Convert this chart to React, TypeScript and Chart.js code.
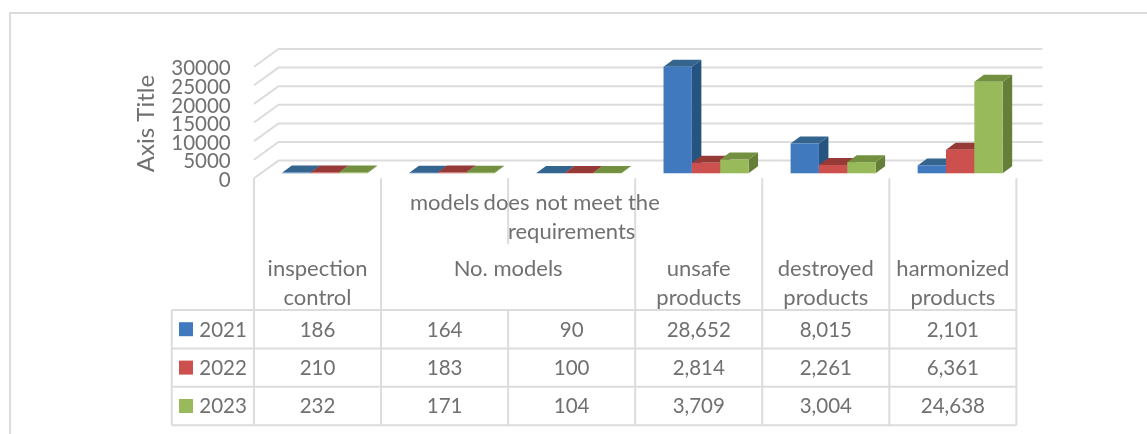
import React, { useEffect, useRef } from "react";
import { Chart, registerables } from "chart.js";

Chart.register(...registerables);

const seriesNames = ["2021", "2022", "2023"];
const values2021 = [186, 164, 90, 28652, 8015, 2101];
const values2022 = [210, 183, 100, 2814, 2261, 6361];
const values2023 = [232, 171, 104, 3709, 3004, 24638];
const categories = ["inspection control", "models", "does not meet the requirements", "unsafe products", "destroyed products", "harmonized products"];
const innerLabels = [["inspection", "control"], ["No. models"], [], ["unsafe", "products"], ["destroyed", "products"], ["harmonized", "products"]];
const outerLabels = [[], ["models"], ["does not meet the", "requirements"], [], [], []];
const axisTitle = "Axis Title";

const frontColors = ["#4179be", "#cb504e", "#98ba5b"];
const topColors = ["#33658f", "#963a38", "#72903f"];
const sideColors = ["#255480", "#8a302e", "#667f38"];
const allValues = [values2021, values2022, values2023];

const NUM_FONT = "20.5px Lato";
const LABEL_FONT = "22px Lato";
const TEXT = "#707070";
const LINE = "#dcdcdc";

const scene = {
  id: "scene",
  beforeDatasetsDraw(chart: any) {
    const { ctx, scales: { x, y } } = chart;
    const band = x.width / categories.length;
    const frontLeft = x.left - 7.3;
    const frontRight = frontLeft + band * categories.length;
    ctx.save();
    // outer frame
    ctx.strokeStyle = LINE;
    ctx.lineWidth = 2;
    ctx.beginPath();
    ctx.moveTo(10, 434);
    ctx.lineTo(10, 13);
    ctx.lineTo(1147, 13);
    ctx.stroke();
    // wall gridlines
    y.ticks.forEach((t: any) => {
      const p = y.getPixelForValue(t.value);
      ctx.beginPath();
      ctx.moveTo(frontLeft, p + 5);
      ctx.lineTo(frontLeft + 24.5, p - 12.7);
      ctx.lineTo(frontRight + 26, p - 12.7);
      ctx.stroke();
    });
    // data table grid
    const rowTop = 310;
    const rowH = 38.4;
    const tableLeft = 171.7;
    const base = y.getPixelForValue(0) + 5;
    ctx.beginPath();
    for (let r = 0; r <= seriesNames.length; r++) {
      ctx.moveTo(tableLeft, rowTop + r * rowH);
      ctx.lineTo(frontRight, rowTop + r * rowH);
    }
    ctx.moveTo(tableLeft, rowTop);
    ctx.lineTo(tableLeft, rowTop + 3 * rowH);
    for (let c = 0; c <= categories.length; c++) {
      const cx = frontLeft + c * band;
      if (c === 2) {
        ctx.moveTo(cx, base);
        ctx.lineTo(cx, 244);
        ctx.moveTo(cx, rowTop);
      } else {
        ctx.moveTo(cx, base);
      }
      ctx.lineTo(cx, rowTop + 3 * rowH);
    }
    ctx.stroke();
    // text
    ctx.fillStyle = TEXT;
    ctx.textBaseline = "middle";
    ctx.textAlign = "center";
    categories.forEach((_, c) => {
      const cx = frontLeft + (c + 0.5) * band;
      ctx.font = LABEL_FONT;
      outerLabels[c].forEach((s, i) => ctx.fillText(s, cx, 202.5 + i * 29.5));
      const inner = innerLabels[c];
      const innerX = inner.length === 1 ? frontLeft + (c + 1) * band : cx;
      inner.forEach((s, i) => ctx.fillText(s, innerX, 268.5 + i * 29));
      ctx.font = NUM_FONT;
      allValues.forEach((vals, r) => {
        ctx.fillText(vals[c].toLocaleString("en-US"), cx, rowTop + (r + 0.5) * rowH + 0.8);
      });
    });
    ctx.textAlign = "left";
    seriesNames.forEach((s, r) => {
      const cy = rowTop + (r + 0.5) * rowH;
      ctx.fillStyle = frontColors[r];
      ctx.fillRect(179, cy - 7, 14, 14);
      ctx.fillStyle = TEXT;
      ctx.fillText(s, 199.3, cy + 0.8);
    });
    // axis title
    ctx.save();
    ctx.translate(146, 123.5);
    ctx.rotate(-Math.PI / 2);
    ctx.textAlign = "center";
    ctx.font = "24px Lato";
    ctx.fillText(axisTitle, 0, 0);
    ctx.restore();
    ctx.restore();
  },
  // The library paints the last dataset first; a 3D cluster needs the first one at the back.
  beforeDatasetDraw() {
    return false;
  },
  afterDatasetsDraw(chart: any) {
    const { ctx } = chart;
    const dx = 9.5;
    const dy = 7;
    seriesNames.forEach((_, i) => {
      const meta = chart.getDatasetMeta(i);
      ctx.save();
      meta.data.forEach((bar: any) => {
        const l = bar.x - bar.width / 2;
        const r = bar.x + bar.width / 2;
        ctx.fillStyle = sideColors[i];
        ctx.beginPath();
        ctx.moveTo(r, bar.base);
        ctx.lineTo(r + dx, bar.base - dy);
        ctx.lineTo(r + dx, bar.y - dy);
        ctx.lineTo(r, bar.y);
        ctx.closePath();
        ctx.fill();
        ctx.fillStyle = topColors[i];
        ctx.beginPath();
        ctx.moveTo(l, bar.y);
        ctx.lineTo(l + dx, bar.y - dy);
        ctx.lineTo(r + dx, bar.y - dy);
        ctx.lineTo(r, bar.y);
        ctx.closePath();
        ctx.fill();
      });
      ctx.restore();
      meta.controller.draw();
    });
  },
};

export default function App() {
  const ref = useRef<HTMLCanvasElement>(null);
  useEffect(() => {
    const chart = new Chart(ref.current!, {
      type: "bar",
      data: {
        labels: categories,
        datasets: seriesNames.map((name, i) => ({
          label: name,
          data: allValues[i],
          backgroundColor: frontColors[i],
          categoryPercentage: 0.669,
          barPercentage: 1,
        })),
      },
      options: {
        responsive: false,
        animation: false,
        layout: { padding: { left: 0, top: 61.7, right: 123.3, bottom: 260.7 } },
        plugins: { legend: { display: false }, tooltip: { enabled: false }, title: { display: false } },
        scales: {
          x: { display: false, grid: { display: false } },
          y: {
            min: 0,
            max: 30000,
            afterFit(s: any) { s.width = 261.3; },
            grid: { display: false, drawTicks: false },
            border: { display: false },
            ticks: {
              stepSize: 5000,
              autoSkip: false,
              padding: 30.6,
              labelOffset: 7,
              color: TEXT,
              font: { family: "Lato", size: 20.5 },
              callback: (v: any) => String(v),
            },
          },
        },
      },
      plugins: [scene],
    } as any);
    return () => chart.destroy();
  }, []);
  return (
    <div style={{ position: "absolute", left: 0, top: 0, width: 1147, height: 434, background: "#fff" }}>
      <canvas ref={ref} width={1147} height={434} style={{ display: "block" }} />
    </div>
  );
}
